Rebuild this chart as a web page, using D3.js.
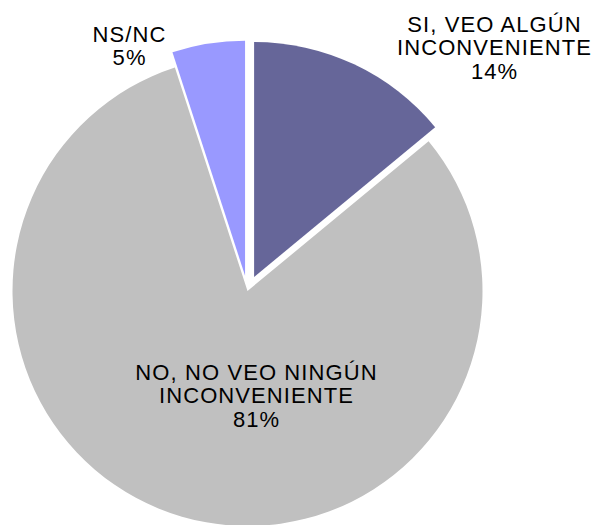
<!DOCTYPE html>
<html>
<head>
<meta charset="utf-8">
<script src="https://cdn.jsdelivr.net/npm/d3@7"></script>
<style>
  html, body { margin: 0; padding: 0; background: #fff; }
  svg { display: block; }
  text { font-family: "Liberation Sans", Arial, sans-serif; fill: #000; }
</style>
</head>
<body>
<svg id="chart" width="597" height="525"></svg>
<script>
const categories = ["SI, VEO ALGÚN INCONVENIENTE", "NO, NO VEO NINGÚN INCONVENIENTE", "NS/NC"];
const values = [14, 81, 5];
const percentLabels = ["14%", "81%", "5%"];
const labelLines = [
  ["SI, VEO ALGÚN", "INCONVENIENTE", "14%"],
  ["NO, NO VEO NINGÚN", "INCONVENIENTE", "81%"],
  ["NS/NC", "5%"]
];
const colors = ["#666699", "#C0C0C0", "#9999FF"];
const explode = [15.5, 0, 15.5];
const labelPos = [[494, 31.5], [256, 379.5], [129, 41.5]];

const W = 597, H = 525;
const cx = 247.5, cy = 291, R = 235;
const svg = d3.select("#chart");

const pie = d3.pie().sort(null).value(d => d)(values);
const arc = d3.arc().innerRadius(0).outerRadius(R);

const g = svg.append("g").attr("transform", `translate(${cx},${cy})`);
g.selectAll("path").data(pie).join("path")
  .attr("d", arc)
  .attr("fill", (d, i) => colors[i])
  .attr("transform", (d, i) => {
    const a = (d.startAngle + d.endAngle) / 2;
    return `translate(${Math.sin(a) * explode[i]},${-Math.cos(a) * explode[i]})`;
  });

const lineH = 23.5;
labelLines.forEach((lines, i) => {
  const t = svg.append("text")
    .attr("text-anchor", "middle")
    .attr("font-size", 22)
    .attr("letter-spacing", 1.1)
    .attr("x", labelPos[i][0])
    .attr("y", labelPos[i][1]);
  lines.forEach((ln, j) => {
    t.append("tspan").attr("x", labelPos[i][0] + 0.55).attr("y", labelPos[i][1] + j * lineH).text(ln);
  });
});
</script>
</body>
</html>
